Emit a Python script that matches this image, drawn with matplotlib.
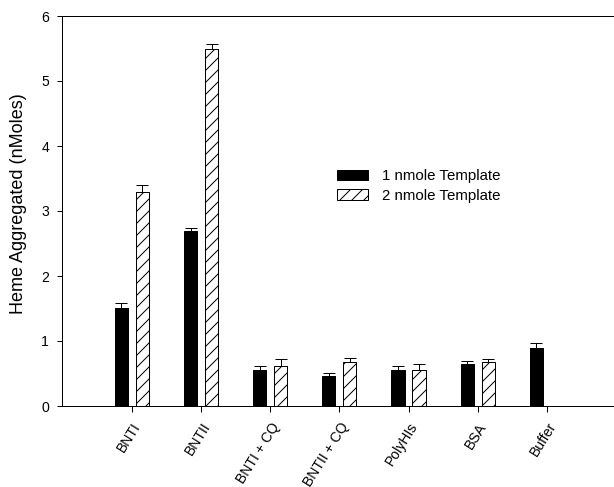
import numpy as np
import matplotlib.pyplot as plt

plt.rcParams['font.family'] = ['Liberation Sans', 'DejaVu Sans']
plt.rcParams['hatch.linewidth'] = 1.0

templates = ["BNTI", "BNTII", "BNTI + CQ", "BNTII + CQ", "PolyHIs", "BSA", "Buffer"]
one_nmole = [1.51, 2.69, 0.55, 0.46, 0.55, 0.64, 0.89]
one_nmole_err = [0.07, 0.05, 0.06, 0.05, 0.07, 0.06, 0.08]
two_nmole = [3.30, 5.49, 0.62, 0.68, 0.55, 0.68, 0.0]
two_nmole_err = [0.10, 0.08, 0.10, 0.06, 0.09, 0.05, 0.0]

fig = plt.figure(figsize=(614 / 72, 487 / 72), dpi=72)
ax = fig.add_axes([62 / 614, 1 - 406 / 487, 1 - 62 / 614, (406 - 16) / 487])

x = np.arange(len(templates))
width = 0.19
offset = 0.152

zeros = np.zeros(len(templates))
ax.bar(x - offset, one_nmole, width, color="black", edgecolor="black",
       linewidth=1, label="1 nmole Template")
ax.bar(x + offset, two_nmole, width, color="white", edgecolor="black",
       linewidth=1, hatch="//", label="2 nmole Template")
ax.errorbar(x - offset, one_nmole, yerr=[zeros, one_nmole_err], fmt="none",
            ecolor="black", elinewidth=1, capsize=6, capthick=1)
has_err = np.array(two_nmole) > 0
ax.errorbar((x + offset)[has_err], np.array(two_nmole)[has_err],
            yerr=[zeros[has_err], np.array(two_nmole_err)[has_err]],
            fmt="none", ecolor="black", elinewidth=1, capsize=6, capthick=1)

ax.set_xlim(-1.01, 6.97)
ax.set_ylim(0, 6)
ax.set_yticks(range(7))
ax.set_xticks(x)
ax.set_xticklabels(templates, rotation=58, ha="right", rotation_mode="anchor")
ax.tick_params(axis="both", direction="out", width=1, labelsize=14)
ax.tick_params(axis="y", length=5, pad=8)
ax.tick_params(axis="x", length=6, pad=8)
ax.spines["right"].set_visible(False)
for side in ["left", "bottom", "top"]:
    ax.spines[side].set_linewidth(1)

ax.set_ylabel("Heme Aggregated (nMoles)", fontsize=18)
ax.yaxis.set_label_coords(-0.063, 0.52)

ax.legend(loc="center left", bbox_to_anchor=(329 / 614, 1 - 186 / 487),
          bbox_transform=fig.transFigure, frameon=False, fontsize=15,
          handlelength=2.1, handleheight=0.7, handletextpad=0.9,
          labelspacing=0.35, borderpad=0)

fig.savefig("out.png", dpi=72)
